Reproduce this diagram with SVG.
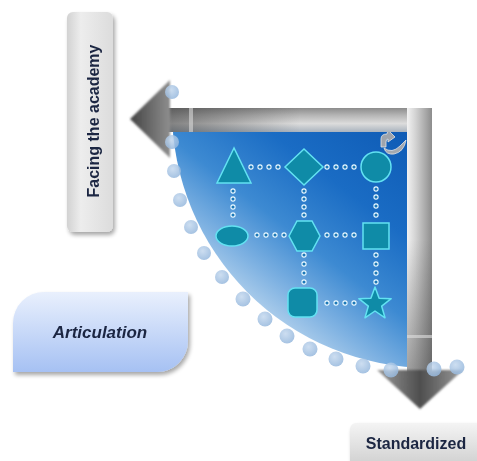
<svg xmlns="http://www.w3.org/2000/svg" width="477" height="461" viewBox="0 0 477 461">
<defs>
<linearGradient id="blueG" gradientUnits="userSpaceOnUse" x1="430" y1="110" x2="230" y2="370">
<stop offset="0" stop-color="#0a55b0"/><stop offset="0.35" stop-color="#1a6cc4"/><stop offset="0.55" stop-color="#3d8ad2"/><stop offset="0.7" stop-color="#7fb2e2"/><stop offset="0.85" stop-color="#c5dcf0"/><stop offset="1" stop-color="#eef5fb"/>
</linearGradient>
<linearGradient id="hShaft" x1="0" y1="0" x2="0" y2="1">
<stop offset="0" stop-color="#8c8c8c"/><stop offset="0.3" stop-color="#b5b5b5"/><stop offset="0.65" stop-color="#dcdcdc"/><stop offset="1" stop-color="#a9b3be"/>
</linearGradient>
<linearGradient id="hShade" gradientUnits="userSpaceOnUse" x1="165" y1="0" x2="300" y2="0">
<stop offset="0" stop-color="#333" stop-opacity="0.55"/><stop offset="1" stop-color="#333" stop-opacity="0"/>
</linearGradient>
<linearGradient id="vShaft" x1="0" y1="0" x2="1" y2="0">
<stop offset="0" stop-color="#f2f2f2"/><stop offset="0.35" stop-color="#d2d2d2"/><stop offset="0.75" stop-color="#a8a8a8"/><stop offset="1" stop-color="#8c8c8c"/>
</linearGradient>
<linearGradient id="vShade" gradientUnits="userSpaceOnUse" x1="0" y1="240" x2="0" y2="380">
<stop offset="0" stop-color="#333" stop-opacity="0"/><stop offset="1" stop-color="#333" stop-opacity="0.45"/>
</linearGradient>
<linearGradient id="headL" x1="0" y1="0" x2="1" y2="0">
<stop offset="0" stop-color="#444"/><stop offset="1" stop-color="#8e8e8e"/>
</linearGradient>
<linearGradient id="headD" x1="0" y1="0" x2="1" y2="0">
<stop offset="0" stop-color="#9a9a9a"/><stop offset="0.5" stop-color="#4e4e4e"/><stop offset="1" stop-color="#9a9a9a"/>
</linearGradient>
<linearGradient id="grayBox" x1="0" y1="0" x2="0" y2="1">
<stop offset="0" stop-color="#f4f4f4"/><stop offset="1" stop-color="#cdcdcd"/>
</linearGradient>
<linearGradient id="grayBoxV" x1="0" y1="0" x2="1" y2="0">
<stop offset="0" stop-color="#d2d2d2"/><stop offset="0.3" stop-color="#ededed"/><stop offset="1" stop-color="#dcdcdc"/>
</linearGradient>
<linearGradient id="artG" x1="0" y1="0" x2="0" y2="1">
<stop offset="0" stop-color="#e9f0fd"/><stop offset="1" stop-color="#a6c1f3"/>
</linearGradient>
<radialGradient id="dotG" cx="0.4" cy="0.35" r="0.7">
<stop offset="0" stop-color="#c4d8ee"/><stop offset="1" stop-color="#93b6dc"/>
</radialGradient>
<filter id="sh" x="-20%" y="-20%" width="150%" height="150%">
<feGaussianBlur in="SourceAlpha" stdDeviation="2"/><feOffset dx="2" dy="3"/>
<feComponentTransfer><feFuncA type="linear" slope="0.35"/></feComponentTransfer>
<feMerge><feMergeNode/><feMergeNode in="SourceGraphic"/></feMerge>
</filter>
<filter id="soft" x="-20%" y="-20%" width="140%" height="140%"><feGaussianBlur stdDeviation="1.2"/></filter>
<marker id="ring" viewBox="0 0 6 6" refX="3" refY="3" markerWidth="6" markerHeight="6" markerUnits="userSpaceOnUse">
<circle cx="3" cy="3" r="2.1" fill="#1b78b8" stroke="#eaf9ff" stroke-width="1.1"/>
</marker>
</defs>
<style>
.shape{fill:#0f8ba7;stroke:#63e2f2;stroke-width:1.5}
.conn{fill:none;stroke:none;marker-start:url(#ring);marker-mid:url(#ring);marker-end:url(#ring)}
.dot{fill:url(#dotG);opacity:0.85}
.lbl{font-family:"Liberation Sans",Arial,sans-serif;font-weight:bold;fill:#1b2642}
</style>
<rect width="477" height="461" fill="#ffffff"/>

<g id="quadrant">
<path d="M430,110 L172,110 A258,258 0 0 0 430,368 Z" fill="url(#blueG)"/>
</g>

<g id="connectors">
<path class="conn" d="M251,167 L260,167 L269,167 L278,167"/>
<path class="conn" d="M327,167 L336,167 L345,167 L354,167"/>
<path class="conn" d="M233,191 L233,199 L233,207 L233,215"/>
<path class="conn" d="M304,191 L304,199 L304,207 L304,215"/>
<path class="conn" d="M376,189 L376,197 L376,206 L376,215"/>
<path class="conn" d="M257,235 L266,235 L275,235 L284,235"/>
<path class="conn" d="M327,235 L336,235 L345,235 L354,235"/>
<path class="conn" d="M304,255 L304,264 L304,273 L304,282"/>
<path class="conn" d="M376,255 L376,264 L376,273 L376,282"/>
<path class="conn" d="M327,303 L336,303 L345,303 L354,303"/>
</g>

<g id="triangle"><polygon class="shape" points="234,148 217,183 251,183"/></g>
<g id="diamond"><polygon class="shape" points="304,149 323,167 304,185 285,167"/></g>
<g id="circle"><circle class="shape" cx="376" cy="167" r="15"/></g>
<g id="ellipse"><ellipse class="shape" cx="232" cy="236" rx="16" ry="10"/></g>
<g id="hexagon"><polygon class="shape" points="289,236 297,221 312,221 320,236 312,251 297,251"/></g>
<g id="square"><rect class="shape" x="363" y="223" width="26" height="26"/></g>
<g id="roundsquare"><rect class="shape" x="288" y="288" width="29" height="29" rx="7" fill="#0b7d9b"/></g>
<g id="star"><polygon class="shape" stroke-linejoin="round" points="375,287 379.1,298.3 391.2,298.7 381.7,306.2 385,317.8 375,311 365,317.8 368.3,306.2 358.8,298.7 370.9,298.3"/></g>

<g id="icon">
<path d="M381,147 L381,139 Q381,134 387,134 L388,130 L395,137 L388,142 L388,139 Q386,139 386,142 L386,147 Z" fill="#9ea4ac" stroke="#e6e6e6" stroke-width="0.8"/>
<path d="M384,148 Q392,154 400,146 L406,140 Q404,152 394,154 Q386,155 384,148 Z" fill="#a4a9b0" stroke="#e6e6e6" stroke-width="0.8"/>
</g>

<g id="arrowH">
<rect x="166" y="108" width="266" height="24" fill="url(#hShaft)"/>
<rect x="166" y="108" width="266" height="24" fill="url(#hShade)"/>
<rect x="189" y="108" width="4" height="24" fill="#d8d8d8" opacity="0.6"/>
<polygon points="130,119 170,80 170,158" fill="url(#headL)" filter="url(#soft)"/>
</g>
<g id="arrowV">
<rect x="407" y="108" width="25" height="265" fill="url(#vShaft)"/>
<rect x="407" y="108" width="25" height="265" fill="url(#vShade)"/>
<rect x="407" y="335" width="25" height="3" fill="#e0e0e0" opacity="0.6"/>
<polygon points="377,370 463,370 420,409" fill="url(#headD)" filter="url(#soft)"/>
</g>

<g id="dots">
<circle class="dot" cx="172" cy="92" r="7"/>
<circle class="dot" cx="172" cy="142" r="7"/>
<circle class="dot" cx="174" cy="171" r="7"/>
<circle class="dot" cx="180" cy="200" r="7"/>
<circle class="dot" cx="191" cy="227" r="7"/>
<circle class="dot" cx="204" cy="253" r="7"/>
<circle class="dot" cx="222" cy="277" r="7"/>
<circle class="dot" cx="243" cy="299" r="7.5"/>
<circle class="dot" cx="265" cy="319" r="7.5"/>
<circle class="dot" cx="287" cy="336" r="7.5"/>
<circle class="dot" cx="310" cy="349" r="7.5"/>
<circle class="dot" cx="336" cy="359" r="7.5"/>
<circle class="dot" cx="363" cy="366" r="7.5"/>
<circle class="dot" cx="391" cy="370" r="7.5"/>
<circle class="dot" cx="434" cy="369" r="7.5"/>
<circle class="dot" cx="457" cy="367" r="7.5"/>
</g>

<g id="facing" filter="url(#sh)">
<rect x="67" y="12" width="46" height="220" rx="6" fill="url(#grayBoxV)"/>
<text class="lbl" font-size="16" text-anchor="middle" transform="translate(99,121) rotate(-90)">Facing the academy</text>
</g>

<g id="articulation" filter="url(#sh)">
<path d="M13,372 L13,323 A31,31 0 0 1 44,292 L188,292 L188,341 A31,31 0 0 1 157,372 Z" fill="url(#artG)"/>
<text class="lbl" font-size="17" font-style="italic" text-anchor="middle" x="100" y="338">Articulation</text>
</g>

<g id="standardized" filter="url(#sh)">
<rect x="350" y="423" width="140" height="46" rx="6" fill="url(#grayBox)"/>
<text class="lbl" font-size="16" text-anchor="middle" x="416" y="449">Standardized</text>
</g>
</svg>
